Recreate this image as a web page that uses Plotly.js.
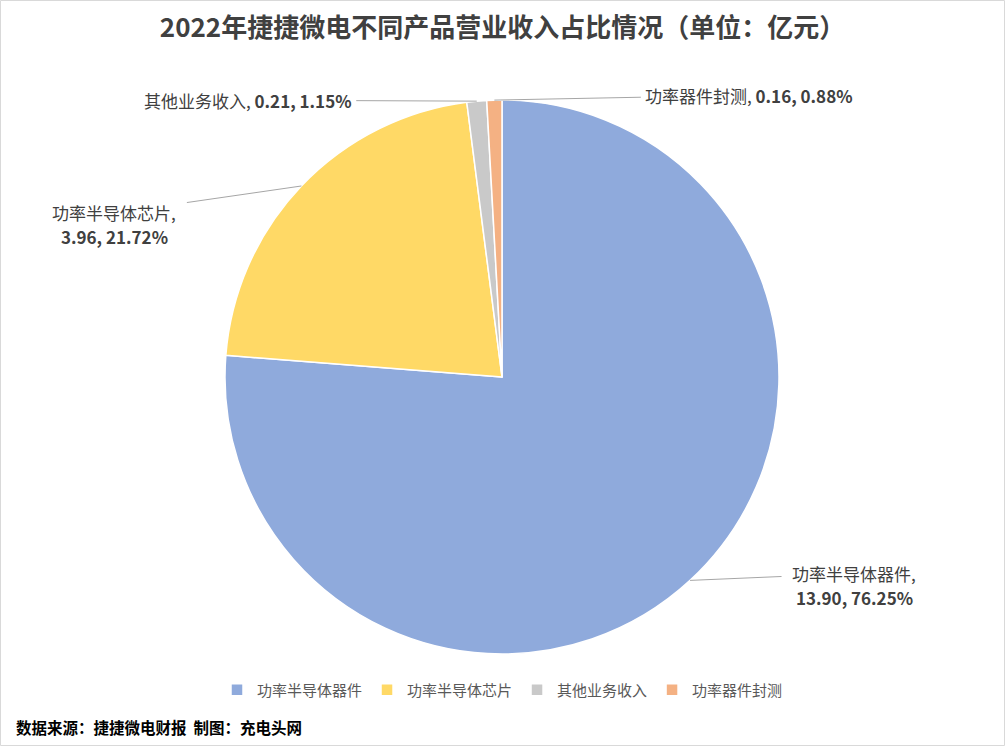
<!DOCTYPE html>
<html>
<head>
<meta charset="utf-8">
<script src="https://cdn.plot.ly/plotly-3.0.1.min.js"></script>
<style>
  html, body { margin: 0; padding: 0; background: #fff; }
  #graphDiv { width: 1005px; height: 746px; }
</style>
</head>
<body>
<div id="graphDiv"></div>
<script>
// Data
const categories = ['功率半导体器件', '功率半导体芯片', '其他业务收入', '功率器件封测'];
const revenue = [13.90, 3.96, 0.21, 0.16];
const shares = ['76.25%', '21.72%', '1.15%', '0.88%'];
const colors = ['#8FAADC', '#FFD966', '#C9C9C9', '#F4B183'];

// Labels: the big two slices wrap onto a second line
const wrapLabel = [true, true, false, false];
// label offsets (pixels) from the slice edge
const labelOffsets = [[164, -7], [-187, 27], [-229, -1], [255, -5]];
const lineGap = 24;

const W = 1005, H = 746;
const cx = 502, cy = 377, R = 277;

// Pie domain in paper units
const domain = {
	x: [(cx - R) / W, (cx + R) / W],
	y: [(H - cy - R) / H, (H - cy + R) / H],
};

const labelFont = { family: 'Noto Sans CJK SC', size: 17, color: '#404040' };

// Find the mid angle of each slice (clockwise from 12 o'clock)
const total = revenue.reduce((a, b) => a + b, 0);
const annotations = [];
let cum = 0;
revenue.forEach((v, i) => {
	const mid = (cum + v / 2) / total * 2 * Math.PI;
	cum += v;
	const px = (cx + R * Math.sin(mid)) / W;
	const py = 1 - (cy - R * Math.cos(mid)) / H;
	const nums = '<b>' + v.toFixed(2) + ', ' + shares[i] + '</b>';
	const first = wrapLabel[i] ? categories[i] + ',' : categories[i] + ', ' + nums;
	const [ax, ay] = labelOffsets[i];

	annotations.push({
		xref: 'paper', yref: 'paper',
		x: px, y: py,
		text: first,
		showarrow: true,
		arrowhead: 0,
		arrowwidth: 1,
		arrowcolor: '#A6A6A6',
		ax: ax, ay: ay,
		borderpad: wrapLabel[i] ? 10 : 4,
		font: labelFont,
	});
	if (wrapLabel[i]) {
		annotations.push({
			xref: 'paper', yref: 'paper',
			x: px, y: py,
			xanchor: 'center', yanchor: 'middle',
			xshift: ax, yshift: -(ay + lineGap),
			text: nums,
			showarrow: false,
			font: labelFont,
		});
	}
});

// Source footer
annotations.push({
	xref: 'paper', yref: 'paper',
	x: 14 / W, y: 1 - 727 / H,
	xanchor: 'left', yanchor: 'middle',
	text: '<b>数据来源：捷捷微电财报  制图：充电头网</b>',
	showarrow: false,
	font: { family: 'Noto Sans CJK SC', size: 15.5, color: '#000000' },
});

const pie = {
	type: 'pie',
	labels: categories,
	values: revenue,
	sort: false,
	direction: 'clockwise',
	rotation: 0,
	textinfo: 'none',
	marker: { colors: colors, line: { color: '#ffffff', width: 1.5 } },
	domain: domain,
	hoverinfo: 'label+value+percent',
};

const layout = {
	width: W,
	height: H,
	margin: { l: 0, r: 0, t: 0, b: 0 },
	paper_bgcolor: '#ffffff',
	font: { family: 'Noto Sans CJK SC', color: '#595959' },
	title: {
		text: '<b>2022年捷捷微电不同产品营业收入占比情况（单位：亿元）</b>',
		x: 0.5, xanchor: 'center',
		y: 1 - 28 / H, yanchor: 'middle',
		font: { family: 'Noto Sans CJK SC', size: 26, color: '#404040' },
	},
	showlegend: true,
	legend: {
		orientation: 'h',
		x: 0.5, xanchor: 'center',
		y: 1 - 690 / H, yanchor: 'middle',
		font: { family: 'Noto Sans CJK SC', size: 15, color: '#595959' },
		itemwidth: 30,
	},
	annotations: annotations,
	shapes: [{
		type: 'rect', xref: 'paper', yref: 'paper',
		x0: 0.5 / W, x1: 1 - 0.5 / W, y0: 0.5 / H, y1: 1 - 0.5 / H,
		line: { color: '#D9D9D9', width: 1 },
	}],
};

Plotly.newPlot('graphDiv', [pie], layout, { displayModeBar: false, staticPlot: true });
</script>
</body>
</html>
